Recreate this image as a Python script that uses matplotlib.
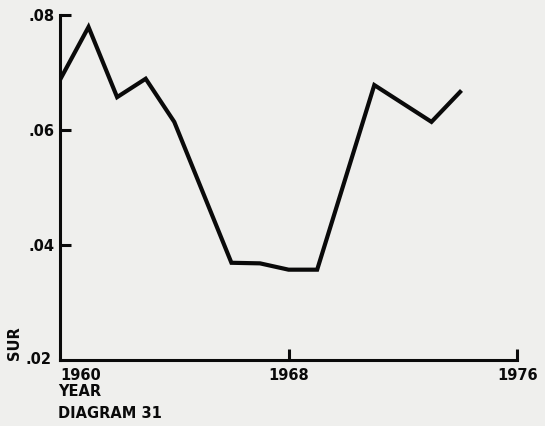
import matplotlib.pyplot as plt

# SUR by year (1965 and 1970 not reported)
years = [1960, 1961, 1962, 1963, 1964, 1966, 1967, 1968, 1969, 1971, 1973, 1974]
sur = [0.0687, 0.0779, 0.0657, 0.0689, 0.0614, 0.0369, 0.0368, 0.0357, 0.0357,
       0.0678, 0.0614, 0.0666]

yticks = [0.02, 0.04, 0.06, 0.08]
ytick_labels = ['.02', '.04', '.06', '.08']
xticks = [1960, 1968, 1976]
xtick_labels = ['1960', '1968', '1976']

paper = '#efefed'
ink = '#0a0a0a'
plt.rcParams['font.family'] = ['DejaVu Sans']

fig = plt.figure(figsize=(5.45, 4.26), dpi=100, facecolor=paper)
ax = fig.add_axes([0.110, 0.155, 0.839, 0.810], facecolor=paper)

ax.plot(years, sur, color=ink, lw=3.0, solid_joinstyle='miter')

ax.set_xlim(1960, 1976)
ax.set_ylim(0.02, 0.08)
for s in ['top', 'right']:
    ax.spines[s].set_visible(False)
for s in ['left', 'bottom']:
    ax.spines[s].set_linewidth(2.2)
    ax.spines[s].set_color(ink)

ax.set_yticks(yticks[1:])
ax.set_yticklabels(ytick_labels[1:])
ax.set_xticks(xticks[1:])
ax.set_xticklabels(xtick_labels[1:])
ax.tick_params(direction='in', length=8, width=2.2, color=ink,
               labelsize=10.5, labelcolor=ink, pad=4)
ax.tick_params(axis='x', pad=6)
for lab in ax.get_xticklabels() + ax.get_yticklabels():
    lab.set_fontweight('bold')

# corner labels
tkw = dict(fontsize=10.5, fontweight='bold', color=ink)
ax.text(-0.018, 0.0, ytick_labels[0], transform=ax.transAxes,
        ha='right', va='center', **tkw)
ax.text(0.0, -0.022, xtick_labels[0], transform=ax.transAxes,
        ha='left', va='top', **tkw)

fig.text(58 / 545, 1 - 392 / 426, 'YEAR', ha='left', va='center', **tkw)
fig.text(58 / 545, 1 - 413 / 426, 'DIAGRAM 31', ha='left', va='center', **tkw)
fig.text(15 / 545, 1 - 360 / 426, 'SUR', rotation=90, ha='center',
         va='bottom', **tkw)

fig.savefig('out.png', dpi=100, facecolor=paper)
